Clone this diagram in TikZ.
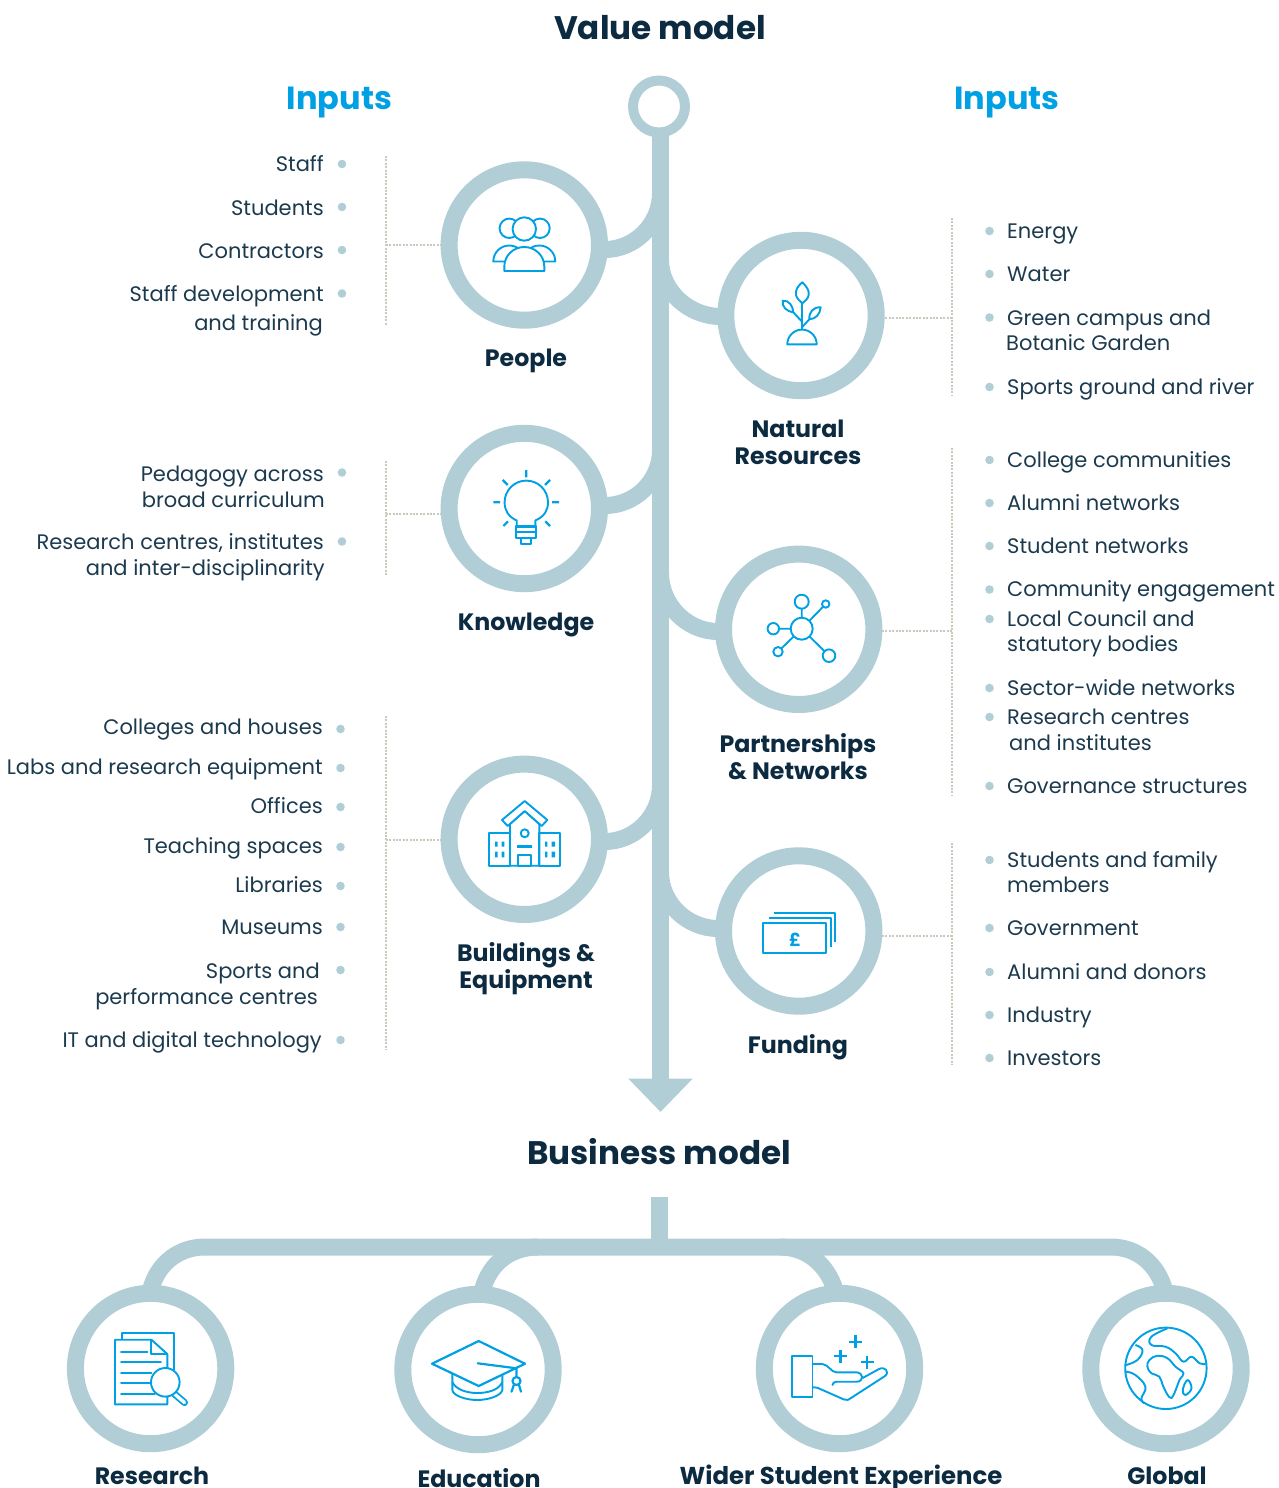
\documentclass[tikz,border=0pt]{standalone}
\usepackage{fontspec}
\setmainfont{Poppins}
\usetikzlibrary{arrows.meta,calc}
\definecolor{ringc}{HTML}{B1CED7}
\definecolor{darkc}{HTML}{0C2A40}
\definecolor{bodyc}{HTML}{1C3A4E}
\definecolor{bluec}{HTML}{00A0E4}
\definecolor{dotc}{HTML}{C9C9BD}
\tikzset{
 hub/.style={circle,draw=ringc,line width=17pt,fill=white,minimum size=150.4pt,inner sep=0pt},
 branch/.style={draw=ringc,line width=17pt},
 leader/.style={draw=dotc,line width=2pt,dash pattern=on 2pt off 1.4pt},
 bul/.style={circle,fill=ringc,minimum size=8.6pt,inner sep=0pt},
 rt/.style={anchor=base east,inner sep=0pt,yshift=-0.7pt,text=bodyc,font=\fontsize{21}{24}\selectfont},
 lf/.style={anchor=base west,inner sep=0pt,yshift=-0.7pt,text=bodyc,font=\fontsize{21}{24}\selectfont},
 lab/.style={inner sep=0pt,text=darkc,align=center,font=\fontsize{23.7}{27.5}\selectfont\bfseries},
 head/.style={inner sep=0pt,text=darkc,font=\fontsize{32.6}{36}\selectfont\bfseries},
 inp/.style={inner sep=0pt,text=bluec,font=\fontsize{32}{36}\selectfont\bfseries},
 ic/.style={draw=bluec,line width=1.9pt,line join=round},
 icw/.style={ic,fill=white}
}
\begin{document}
\begin{tikzpicture}[x=1pt,y=-1pt]
\useasboundingbox (0,0) rectangle (1279,1488);
% trunk
\node[circle,draw=ringc,line width=10pt,fill=white,minimum size=52pt,inner sep=0pt] (top) at (659,106.5) {};
\coordinate (tip) at (660.5,1112);
\coordinate (trunktop) at (660.5,130);
\draw[branch,-{Triangle[length=33.5pt,width=62.5pt]}] (trunktop) -- (tip);
% hubs
\node[hub] (people) at (524.3,245) {};
\node[hub] (natural) at (801,315.5) {};
\node[hub] (knowledge) at (524.3,508.5) {};
\node[hub] (partner) at (798.7,629.3) {};
\node[hub] (buildings) at (524.3,839.3) {};
\node[hub] (funding) at (798.7,931) {};
\node[hub] (research) at (150.6,1368.5) {};
\node[hub] (education) at (478,1369.5) {};
\node[hub] (wider) at (839.5,1368.5) {};
\node[hub] (global) at (1166,1368.5) {};
% branches
\coordinate (tA) at (660.5,193);
\coordinate (tB) at (660.5,260);
\coordinate (tC) at (660.5,450);
\coordinate (tD) at (660.5,573);
\coordinate (tE) at (660.5,785);
\coordinate (tF) at (660.5,872);
\draw[branch] ([shift={(-3,4.5)}]people.east) .. controls +(30,0) and +(0,31) .. (tA);
\draw[branch] ([shift={(-3,-3)}]knowledge.east) .. controls +(30,0) and +(0,31) .. (tC);
\draw[branch] ([shift={(-3,2.2)}]buildings.east) .. controls +(30,0) and +(0,31) .. (tE);
\draw[branch] (tB) .. controls +(0,31) and +(-31,0) .. ([shift={(3,1)}]natural.west);
\draw[branch] (tD) .. controls +(0,32) and +(-31,0) .. ([shift={(3,2.2)}]partner.west);
\draw[branch] (tF) .. controls +(0,31) and +(-31,0) .. ([shift={(3,-2.5)}]funding.west);
% business bus
\coordinate (busL) at (205,1247);
\coordinate (busR) at (1111,1247);
\coordinate (edBus) at (538,1247);
\coordinate (wiBus) at (780,1247);
\coordinate (stubT) at (659,1197);
\coordinate (stubB) at (659,1255);
\draw[branch] (stubT) -- (stubB);
\draw[branch] ([shift={(0,5)}]research.north) .. controls (158,1262) and (180,1247) .. (busL) -- (busR) .. controls (1136,1247) and (1157,1263) .. ([shift={(-1.5,5)}]global.north);
\draw[branch] ([shift={(4.5,4)}]education.north) .. controls (490,1262) and (512,1247) .. (edBus);
\draw[branch] ([shift={(-4.5,5)}]wider.north) .. controls (827,1264) and (806,1247) .. (wiBus);
% leaders
\coordinate (la1) at (385.7,156); \coordinate (la2) at (385.7,325); \coordinate (la3) at (385.7,245);
\coordinate (lb1) at (385.7,461); \coordinate (lb2) at (385.7,575); \coordinate (lb3) at (385.7,514);
\coordinate (lc1) at (385.7,716); \coordinate (lc2) at (385.7,1050); \coordinate (lc3) at (385.7,840);
\coordinate (ra1) at (952,218); \coordinate (ra2) at (952,395); \coordinate (ra3) at (952,318);
\coordinate (rb1) at (952,448); \coordinate (rb2) at (952,795); \coordinate (rb3) at (952,631);
\coordinate (rc1) at (952,843); \coordinate (rc2) at (952,1065); \coordinate (rc3) at (952,936);
\draw[leader] (la1) -- (la2); \draw[leader] (la3) -- (people.west);
\draw[leader] (lb1) -- (lb2); \draw[leader] (lb3) -- (knowledge.west |- lb3);
\draw[leader] (lc1) -- (lc2); \draw[leader] (lc3) -- (buildings.west |- lc3);
\draw[leader] (ra1) -- (ra2); \draw[leader] (ra3) -- (natural.east |- ra3);
\draw[leader] (rb1) -- (rb2); \draw[leader] (rb3) -- (partner.east |- rb3);
\draw[leader] (rc1) -- (rc2); \draw[leader] (rc3) -- (funding.east |- rc3);
% titles
\node[head] (t1) at (660,28) {Value model};
\node[head] (t2) at (659,1152) {Business model};
\node[inp] (i1) at (339.5,103) {Inputs};
\node[inp] (i2) at (1007,103) {Inputs};
% labels
\node[lab] (n1) at (526,361) {People};
\node[lab] (n2) at (798,442.5) {Natural\\Resources};
\node[lab] (n3) at (526,625) {Knowledge};
\node[lab] (n4) at (798,756.5) {Partnerships\\\& Networks};
\node[lab] (n5) at (526,968.5) {Buildings \&\\Equipment};
\node[lab] (n6) at (798,1047) {Funding};
\node[lab] (n7) at (152,1476) {Research};
\node[lab] (n8) at (479,1478) {Education};
\node[lab,font=\fontsize{24.4}{27.5}\selectfont\bfseries] (n9) at (841,1478) {Wider Student Experience};
\node[lab] (n10) at (1167,1476) {Global};
% left texts
\node[rt] (a1) at (324,170.5) {Staff};
\node[rt] (a2) at (324,214.5) {Students};
\node[rt] (a3) at (324,257.5) {Contractors};
\node[rt] (a4) at (324,300.5) {Staff development};
\node[rt] (a5) at (323,329.5) {and training};
\node[rt] (a6) at (324,480.5) {Pedagogy across};
\node[rt] (a7) at (325,506.5) {broad curriculum};
\node[rt] (a8) at (324,548.5) {Research centres, institutes};
\node[rt] (a9) at (325,574.5) {and inter-disciplinarity};
\node[rt] (a10) at (323,733.5) {Colleges and houses};
\node[rt] (a11) at (323,773.5) {Labs and research equipment};
\node[rt] (a12) at (323,812.5) {Offices};
\node[rt] (a13) at (323,852.5) {Teaching spaces};
\node[rt] (a14) at (323,891.5) {Libraries};
\node[rt] (a15) at (323,933.5) {Museums};
\node[rt] (a16) at (320,977.5) {Sports and};
\node[rt] (a17) at (318,1003.5) {performance centres};
\node[rt] (a18) at (322,1046.5) {IT and digital technology};
\node[bul] (ba1) at (342,164) {};
\node[bul] (ba2) at (342,207) {};
\node[bul] (ba3) at (342,250) {};
\node[bul] (ba4) at (342,293.5) {};
\node[bul] (ba5) at (342,472.5) {};
\node[bul] (ba6) at (342,541.5) {};
\node[bul] (ba7) at (340.5,729) {};
\node[bul] (ba8) at (340.5,768) {};
\node[bul] (ba9) at (340.5,807) {};
\node[bul] (ba10) at (340.5,847) {};
\node[bul] (ba11) at (340.5,886) {};
\node[bul] (ba12) at (340.5,927) {};
\node[bul] (ba13) at (340.5,970) {};
\node[bul] (ba14) at (340.5,1040) {};
% right texts
\node[lf] (c1) at (1007,238) {Energy};
\node[lf] (c2) at (1007,281) {Water};
\node[lf] (c3) at (1007,324.5) {Green campus and};
\node[lf] (c4) at (1006,350) {Botanic Garden};
\node[lf] (c5) at (1007,394) {Sports ground and river};
\node[lf] (c6) at (1007,467) {College communities};
\node[lf] (c7) at (1007,510) {Alumni networks};
\node[lf] (c8) at (1007,553) {Student networks};
\node[lf] (c9) at (1007,596) {Community engagement};
\node[lf] (c10) at (1007,626) {Local Council and};
\node[lf] (c11) at (1007,651) {statutory bodies};
\node[lf] (c12) at (1007,695) {Sector-wide networks};
\node[lf] (c13) at (1007,724) {Research centres};
\node[lf] (c14) at (1009,750) {and institutes};
\node[lf] (c15) at (1007,793) {Governance structures};
\node[lf] (c16) at (1007,867) {Students and family};
\node[lf] (c17) at (1007,892) {members};
\node[lf] (c18) at (1007,935) {Government};
\node[lf] (c19) at (1007,979) {Alumni and donors};
\node[lf] (c20) at (1007,1022) {Industry};
\node[lf] (c21) at (1007,1065) {Investors};
\node[bul] (bc1) at (989.5,231) {};
\node[bul] (bc2) at (989.5,274) {};
\node[bul] (bc3) at (989.5,317.5) {};
\node[bul] (bc4) at (989.5,387) {};
\node[bul] (bc5) at (989.5,460) {};
\node[bul] (bc6) at (989.5,503) {};
\node[bul] (bc7) at (989.5,546) {};
\node[bul] (bc8) at (989.5,589.5) {};
\node[bul] (bc9) at (989.5,619) {};
\node[bul] (bc10) at (989.5,688) {};
\node[bul] (bc11) at (989.5,717) {};
\node[bul] (bc12) at (989.5,786) {};
\node[bul] (bc13) at (989.5,860) {};
\node[bul] (bc14) at (989.5,928) {};
\node[bul] (bc15) at (989.5,972) {};
\node[bul] (bc16) at (989.5,1015) {};
\node[bul] (bc17) at (989.5,1058) {};
% ---- icons ----
% people
\draw[icw] (493.3,261.5) arc[start angle=180,end angle=360,radius=16] -- cycle;
\draw[icw] (523.3,261.5) arc[start angle=180,end angle=360,radius=16] -- cycle;
\draw[icw] (509.3,228.3) circle[radius=9.7];
\draw[icw] (540,228.3) circle[radius=9.7];
\draw[icw] (504.3,271) -- (504.3,266.5) arc[start angle=180,end angle=360,x radius=20,y radius=19.5] -- (544.3,271) -- cycle;
\draw[icw] (524.3,229) circle[radius=11.7];
% plant
\draw[ic] (802.3,282.3) .. controls (798,286) and (795,290) .. (796,295) .. controls (797,299) and (800,301) .. (802.3,303.3) .. controls (805,301) and (808,299) .. (808.7,295) .. controls (809.5,290) and (806,286) .. (802.3,282.3) -- cycle;
\draw[ic] (802.3,303.3) -- (802.3,330);
\draw[ic] (782.7,300.7) .. controls (782,307) and (786,311) .. (793.3,312.3) .. controls (793,306) and (789,300) .. (782.7,300.7) -- cycle;
\draw[ic] (793.3,312.3) -- (802.3,322);
\draw[ic] (820.7,307.3) .. controls (813,307) and (809,312) .. (809.3,319.3) .. controls (816,319) and (820,314) .. (820.7,307.3) -- cycle;
\draw[ic] (809.3,319.3) -- (802.3,327);
\draw[icw] (787.3,344.3) arc[start angle=180,end angle=360,radius=14.7] -- cycle;
% bulb
\draw[ic] (516.7,526) -- (516.7,520.5) .. controls (508,516.5) and (504.6,510) .. (504.6,502.3) arc[start angle=180,end angle=360,radius=21.7] .. controls (548,510) and (544.6,516.5) .. (535.3,520.5) -- (535.3,526);
\draw[ic,line width=2.4pt] (516,526.5) -- (536,526.5);
\draw[ic] (516,526) rectangle (536,538.3);
\draw[ic] (516,532) -- (536,532);
\draw[ic] (521.3,538.3) rectangle (531.3,544);
\draw[ic,line width=2.2pt] (526.3,470) -- (526.3,477.3) (493.3,502.3) -- (500,502.3) (552,502.3) -- (559,502.3) (502.7,480) -- (507.7,485) (550,480) -- (545,485) (503.3,526) -- (508,521.3) (550,526) -- (545.3,521.3);
% network
\draw[ic] (801.7,628.7) -- (801.7,601.7) (801.7,628.7) -- (825.7,604) (801.7,628.7) -- (773.3,628.7) (801.7,628.7) -- (778,651.7) (801.7,628.7) -- (829,655.7);
\draw[icw] (801.7,628.7) circle[radius=11];
\draw[icw] (801.7,601.7) circle[radius=7];
\draw[icw] (825.7,604) circle[radius=3.7];
\draw[icw] (773.3,628.7) circle[radius=5.7];
\draw[icw] (778,651.7) circle[radius=4.7];
\draw[icw] (829,655.7) circle[radius=6.3];
% building
\draw[ic] (489,833.3) rectangle (510,865.7);
\draw[ic] (539.3,833.3) rectangle (560.3,865.7);
\draw[ic] (510,865.7) -- (510,824) -- (524.7,811) -- (539.3,824) -- (539.3,865.7) -- cycle;
\draw[icw] (524.7,801) -- (547.3,820) -- (541.7,826) -- (524.7,811) -- (507.7,826) -- (502,820) -- cycle;
\draw[ic] (524.7,833.3) circle[radius=4];
\draw[ic,line width=2.6pt] (517.3,846.3) -- (532,846.3);
\draw[ic] (518.3,855) rectangle (530.7,865.7);
\fill[bluec] (495,841.7) rectangle (497.5,846.7) (501.7,841.7) rectangle (504.3,846.7) (495,851.7) rectangle (497.5,857.3) (501.7,851.7) rectangle (504.3,857.3)
 (545,841.7) rectangle (547.3,846.7) (551.7,841.7) rectangle (555,846.7) (545,851.7) rectangle (547.3,857.3) (551.7,851.7) rectangle (555,857.3);
% money
\draw[ic] (774,912.7) -- (835.3,912.7) -- (835.3,942.3);
\draw[ic] (769,918.3) -- (830.7,918.3) -- (830.7,947.3);
\draw[ic] (763.3,923.3) rectangle (825.7,953.3);
\node[inner sep=0pt,text=bluec,font=\fontsize{18}{18}\selectfont\bfseries] (pound) at (795,939.5) {£};
% research
\draw[ic] (122,1339) -- (122,1332.7) -- (174.4,1332.7) -- (174.4,1370);
\draw[ic] (167.3,1368) -- (167.3,1354) -- (151.4,1339.7) -- (115,1339.7) -- (115,1404.3) -- (167.3,1404.3) -- (167.3,1396.7);
\draw[ic] (151.4,1339.7) -- (151.4,1354) -- (167.3,1354);
\draw[ic,line cap=round] (121,1351.7) -- (147.4,1351.7) (121,1362.3) -- (161,1362.3) (121,1373) -- (151.4,1373) (121,1383.3) -- (150,1383.3) (121,1393.7) -- (155,1393.7);
\draw[bluec,line width=7pt,line cap=round] (174.5,1394) -- (184.5,1402.5);
\draw[white,line width=3.4pt,line cap=round] (174.5,1394) -- (184.5,1402.5);
\draw[icw] (165.3,1382.3) circle[radius=14.3];
% cap
\draw[ic] (452.3,1372) -- (452.3,1390) .. controls (453,1396) and (467,1400) .. (477,1400) .. controls (488,1400) and (501,1396) .. (502.3,1390) -- (502.3,1372);
\draw[ic] (452.3,1382) .. controls (456,1390) and (468,1393) .. (477,1393) .. controls (488,1393) and (499,1390) .. (502.3,1382);
\draw[icw,line width=2.2pt] (478.7,1341) -- (525,1363.7) -- (478.7,1386) -- (432,1363.7) -- cycle;
\draw[ic,line width=2.2pt,line cap=round] (477.7,1363.3) -- (516.5,1368.3) -- (516.5,1376.7);
\draw[ic,line width=2.2pt] (516.5,1381) circle[radius=4];
\draw[ic,line width=2.2pt,line cap=round] (513.8,1385) -- (511.5,1391.7) (519,1385) -- (521,1391.7);
% hand
\draw[ic] (791.6,1356) rectangle (812.5,1396.7);
\draw[ic,line cap=round] (812.5,1364) -- (822.5,1364) .. controls (829,1365) and (831,1372.3) .. (836.5,1372.3) -- (856.6,1372.3) .. controls (864,1373) and (864,1381.7) .. (856.6,1381.7) -- (836.5,1381.7) .. controls (834,1382) and (832.5,1383) .. (832.5,1385);
\draw[ic] (862.6,1378) -- (879,1369) .. controls (885,1366) and (890,1372) .. (885,1376) -- (851,1398) .. controls (849,1400) and (847,1400.5) .. (844,1399.5) -- (818,1388) .. controls (816,1387.4) and (814,1387.3) .. (812.5,1387.3);
\draw[ic,line width=2.3pt] (855.4,1335.2) -- (855.4,1348.2) (848.9,1341.7) -- (861.9,1341.7)
 (840.5,1349.8) -- (840.5,1362.8) (834,1356.3) -- (847,1356.3)
 (867,1355.8) -- (867,1368.8) (860.5,1362.3) -- (873.5,1362.3);
% globe
\draw[ic] (1165.9,1368.3) circle[radius=40.7];
\draw[ic,smooth,tension=.7] plot coordinates {(1167.5,1328.3) (1151.4,1336.7) (1151.4,1345) (1165.5,1346.7) (1175.5,1353.3) (1183.5,1361.7) (1191.5,1356.7) (1199.6,1363.3) (1205.6,1364)};
\draw[ic,smooth cycle,tension=.7] plot coordinates {(1147.4,1366.7) (1149.4,1360) (1157.4,1355.7) (1167.5,1358.3) (1175.5,1366.7) (1183.5,1373.3) (1179.5,1380) (1173.5,1395) (1169.5,1397.3) (1163.4,1386.7) (1159.4,1376.7) (1151.4,1373.3)};
\draw[ic,smooth,tension=.7] plot coordinates {(1135.4,1345) (1142.5,1350) (1137.4,1360) (1126.1,1365)};
\draw[ic,smooth,tension=.7] plot coordinates {(1126.1,1371.7) (1135.4,1375) (1145.4,1386.7) (1141.4,1398.3) (1144.2,1403.3)};
\draw[ic,smooth cycle,tension=.7] plot coordinates {(1187.5,1380) (1191.5,1388.3) (1185.5,1395) (1182.7,1390)};
\end{tikzpicture}
\end{document}
